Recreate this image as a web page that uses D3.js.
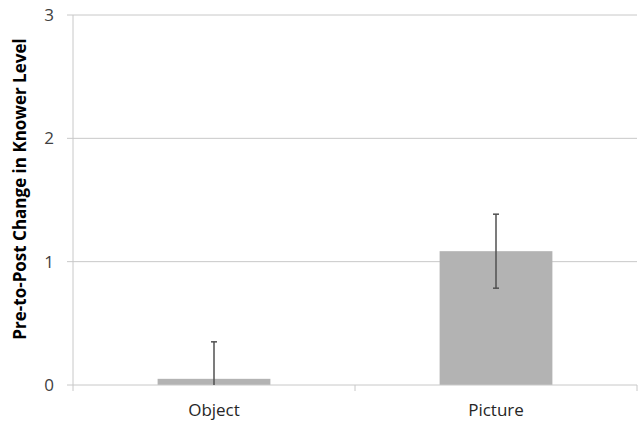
<!DOCTYPE html>
<html><head><meta charset="utf-8">
<script src="https://cdn.jsdelivr.net/npm/d3@7"></script>
<style>body{margin:0;background:#fff}</style>
</head><body>
<svg id="c" width="638" height="423"></svg>
<script>
const categories = ["Object", "Picture"];
const values = [0.05, 1.085];
const errors = [0.3, 0.3];
const yTicks = [0, 1, 2, 3];
const yLabel = "Pre-to-Post Change in Knower Level";

const svg = d3.select("#c");
const m = {l: 73, r: 1, t: 15, b: 38};
const W = 638, H = 423;
const x = d3.scaleBand().domain(categories).range([m.l, W - m.r]).paddingInner(0.6).paddingOuter(0.3);
const xb = d3.scaleBand().domain(categories).range([m.l, W - m.r]);
const y = d3.scaleLinear().domain([0, 3]).range([H - m.b, m.t]);
const font = "'Open Sans', sans-serif";

// gridlines
svg.append("g").selectAll("line").data(yTicks.filter(d => d > 0)).join("line")
  .attr("x1", m.l - 6).attr("x2", W - m.r)
  .attr("y1", d => y(d)).attr("y2", d => y(d))
  .attr("stroke", "#c8c8c8").attr("stroke-width", 1);

// y axis
svg.append("line").attr("x1", m.l).attr("x2", m.l).attr("y1", y(3)).attr("y2", y(0))
  .attr("stroke", "#c8c8c8");
svg.append("g").selectAll("text").data(yTicks).join("text")
  .attr("x", m.l - 19).attr("y", d => y(d)).attr("dy", "0.36em")
  .attr("text-anchor", "end").attr("font-family", font).attr("font-size", 17)
  .attr("fill", "#404040").text(d => d);

// bars
svg.append("g").selectAll("rect").data(categories).join("rect")
  .attr("x", d => x(d)).attr("width", x.bandwidth())
  .attr("y", (d, i) => y(values[i])).attr("height", (d, i) => y(0) - y(values[i]))
  .attr("fill", "#b3b3b3");

// x axis
svg.append("line").attr("x1", m.l - 6).attr("x2", W - m.r).attr("y1", y(0)).attr("y2", y(0))
  .attr("stroke", "#c8c8c8");
const bounds = categories.map(c => xb(c)).concat([xb(categories[categories.length-1]) + xb.bandwidth()]);
svg.append("g").selectAll("line").data(bounds).join("line")
  .attr("x1", d => d).attr("x2", d => d).attr("y1", y(0)).attr("y2", y(0) + 6)
  .attr("stroke", "#c8c8c8");
svg.append("g").selectAll("text").data(categories).join("text")
  .attr("x", d => xb(d) + xb.bandwidth() / 2).attr("y", y(0) + 31)
  .attr("text-anchor", "middle").attr("font-family", font).attr("font-size", 17)
  .attr("fill", "#262626").text(d => d);

// error bars
const eg = svg.append("g").attr("stroke", "#505050").attr("stroke-width", 1.5);
categories.forEach((c, i) => {
  const cx = x(c) + x.bandwidth() / 2;
  const lo = Math.max(0, values[i] - errors[i]), hi = values[i] + errors[i];
  eg.append("line").attr("x1", cx).attr("x2", cx).attr("y1", y(lo)).attr("y2", y(hi));
  eg.append("line").attr("x1", cx - 3).attr("x2", cx + 3).attr("y1", y(hi)).attr("y2", y(hi));
  if (values[i] - errors[i] >= 0)
    eg.append("line").attr("x1", cx - 3).attr("x2", cx + 3).attr("y1", y(lo)).attr("y2", y(lo));
});

// y label
svg.append("text").attr("transform", `translate(26,${(y(0) + y(3)) / 2 - 11}) rotate(-90)`)
  .attr("text-anchor", "middle").attr("font-family", font).attr("font-size", 17)
  .attr("font-weight", "bold").attr("fill", "#000").text(yLabel);
</script>
</body></html>
